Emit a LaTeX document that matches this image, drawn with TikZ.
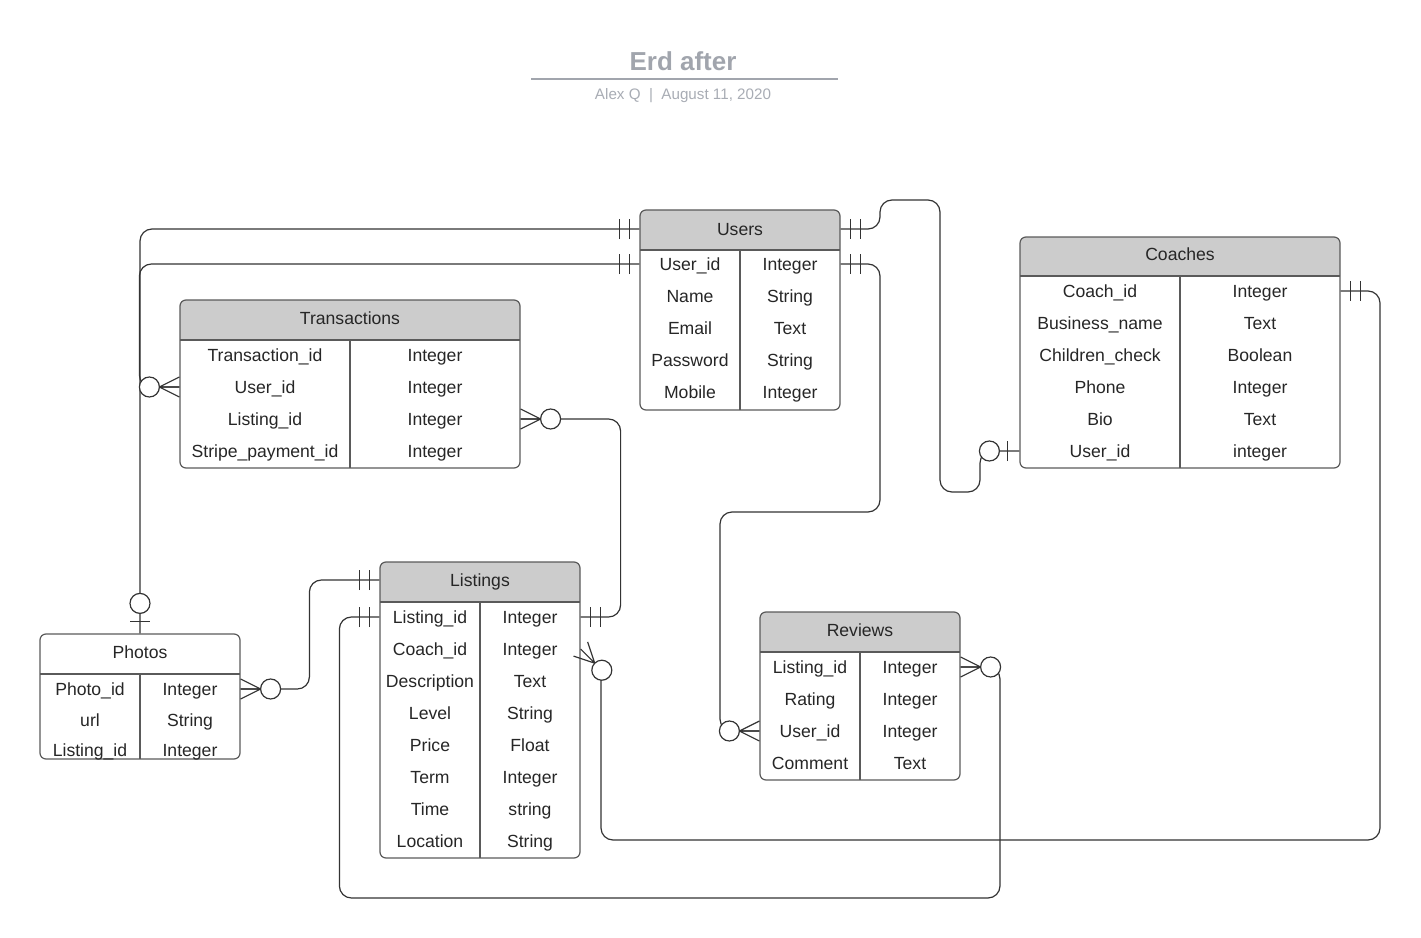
\documentclass[tikz,border=0pt]{standalone}
\usepackage{fontspec}
\setmainfont{Liberation Sans}
\definecolor{hdgray}{RGB}{204,204,204}
\definecolor{tline}{RGB}{90,90,90}
\definecolor{lnk}{RGB}{51,51,51}
\definecolor{ttl}{RGB}{161,165,173}
\definecolor{subttl}{RGB}{168,172,180}
\definecolor{txt}{RGB}{38,38,38}
\begin{document}
\begin{tikzpicture}[x=0.75pt,y=-0.75pt,
    tbl/.style={draw=tline,line width=0.9pt,rounded corners=4.5pt,inner sep=0pt},
    hd/.style={fill=hdgray},
    sep/.style={draw=tline,line width=0.9pt},
    cell/.style={inner sep=0pt,text height=9.4pt,text depth=0pt,text=txt,font=\fontsize{13.2}{15}\selectfont},
    link/.style={draw=lnk,line width=0.9pt,rounded corners=9pt},
    endmark/.style={draw=lnk,line width=0.9pt},
    bars/.pic={\draw[endmark] (10,-10)--(10,10) (20,-10)--(20,10);},
    zeroone/.pic={\draw[endmark] (12,-10)--(12,10);
      \draw[endmark,fill=white] (30,0) circle[radius=7.5pt];},
    zeromany/.pic={\draw[endmark] (0,-10)--(20,0)--(0,10) (0,0)--(20,0);
      \draw[endmark,fill=white] (30,0) circle[radius=7.5pt];}]
\useasboundingbox (0,0) rectangle (1421,938);

\node[font=\bfseries\fontsize{19.5}{22}\selectfont,text=ttl] (title) at (683,61) {Erd after};
\draw[ttl,line width=1.5pt] (531,79) -- (838,79);
\node[font=\fontsize{11.4}{13}\selectfont,text=subttl] (subtitle) at (683,96) {Alex Q\ \ |\ \ August 11, 2020};

% Users
\fill[hd] (640,250) [rounded corners=4.5pt] -- (640,210) -- (840,210) [sharp corners] -- (840,250) -- cycle;
\node[tbl,minimum width=150pt,minimum height=150pt] (users) at (740,310) {};
\draw[sep] (640,250) -- (840,250) (740,250) -- (740,410);
\node[cell] (users-hd) at (740,229) {Users};
\foreach \a/\b [count=\i] in {User\_id/Integer,Name/String,Email/Text,Password/String,Mobile/Integer}{
  \node[cell] (users-\i) at (690,{232+32*\i}) {\a};
  \node[cell] (users-t\i) at (790,{232+32*\i}) {\b};
}

% Transactions
\fill[hd] (180,340) [rounded corners=4.5pt] -- (180,300) -- (520,300) [sharp corners] -- (520,340) -- cycle;
\node[tbl,minimum width=255pt,minimum height=126pt] (trans) at (350,384) {};
\draw[sep] (180,340) -- (520,340) (350,340) -- (350,468);
\node[cell] (trans-hd) at (350,318) {Transactions};
\foreach \a/\b [count=\i] in {Transaction\_id/Integer,User\_id/Integer,Listing\_id/Integer,Stripe\_payment\_id/Integer}{
  \node[cell] (trans-\i) at (265,{323+32*\i}) {\a};
  \node[cell] (trans-t\i) at (435,{323+32*\i}) {\b};
}

% Coaches
\fill[hd] (1020,276) [rounded corners=4.5pt] -- (1020,237) -- (1340,237) [sharp corners] -- (1340,276) -- cycle;
\node[tbl,minimum width=240pt,minimum height=173.25pt] (coaches) at (1180,352.5) {};
\draw[sep] (1020,276) -- (1340,276) (1180,276) -- (1180,468);
\node[cell] (coaches-hd) at (1180,254) {Coaches};
\foreach \a/\b [count=\i] in {Coach\_id/Integer,Business\_name/Text,Children\_check/Boolean,Phone/Integer,Bio/Text,User\_id/integer}{
  \node[cell] (coaches-\i) at (1100,{259+32*\i}) {\a};
  \node[cell] (coaches-t\i) at (1260,{259+32*\i}) {\b};
}

% Listings
\fill[hd] (380,602) [rounded corners=4.5pt] -- (380,562) -- (580,562) [sharp corners] -- (580,602) -- cycle;
\node[tbl,minimum width=150pt,minimum height=222pt] (listings) at (480,710) {};
\draw[sep] (380,602) -- (580,602) (480,602) -- (480,858);
\node[cell] (listings-hd) at (480,580) {Listings};
\foreach \a/\b [count=\i] in {Listing\_id/Integer,Coach\_id/Integer,Description/Text,Level/String,Price/Float,Term/Integer,Time/string,Location/String}{
  \node[cell] (listings-\i) at (430,{585+32*\i}) {\a};
  \node[cell] (listings-t\i) at (530,{585+32*\i}) {\b};
}

% Reviews
\fill[hd] (760,652) [rounded corners=4.5pt] -- (760,612) -- (960,612) [sharp corners] -- (960,652) -- cycle;
\node[tbl,minimum width=150pt,minimum height=126pt] (reviews) at (860,696) {};
\draw[sep] (760,652) -- (960,652) (860,652) -- (860,780);
\node[cell] (reviews-hd) at (860,630) {Reviews};
\foreach \a/\b [count=\i] in {Listing\_id/Integer,Rating/Integer,User\_id/Integer,Comment/Text}{
  \node[cell] (reviews-\i) at (810,{635+32*\i}) {\a};
  \node[cell] (reviews-t\i) at (910,{635+32*\i}) {\b};
}

% Photos
\node[tbl,minimum width=150pt,minimum height=93.75pt] (photos) at (140,696.5) {};
\draw[sep] (40,674) -- (240,674) (140,674) -- (140,759);
\node[cell] (photos-hd) at (140,652) {Photos};
\foreach \a/\b/\y [count=\i] in {Photo\_id/Integer/689,url/String/720,Listing\_id/Integer/750}{
  \node[cell] (photos-\i) at (90,\y) {\a};
  \node[cell] (photos-t\i) at (190,\y) {\b};
}

% relations
\draw[link] (users.west |- users-hd) -| (photos.north);
\draw[link] (users.west |- users-1) -| ([xshift=-30pt]trans.west |- trans-2) -- (trans.west |- trans-2);
\draw[link] (trans.east |- trans-3) -| ([xshift=30pt]listings.east |- listings-1) -- (listings.east |- listings-1);
\draw[link] (users.east |- users-hd) -- (880,229) -- (880,200) -- (940,200) -- (940,492) -- (980,492) |- (coaches.west |- coaches-6);
\draw[link] (users.east |- users-1) -| (880,512) -- (720,512) |- (reviews.west |- reviews-3);
\draw[link] (coaches.east |- coaches-1) -| (1380,840) -| (601,670);
\draw[link] (reviews.east |- reviews-1) -| (1000,898) -| ([xshift=-30pt]listings.west |- listings-1) -- (listings.west |- listings-1);
\draw[link] (photos.east |- photos-1) -| ([xshift=-52.5pt]listings.west |- listings-hd) -- (listings.west |- listings-hd);

\pic[rotate=180] at (users.west |- users-hd) {bars};
\pic[rotate=180] at (users.west |- users-1) {bars};
\pic[rotate=90] at (photos.north) {zeroone};
\pic[rotate=180] at (trans.west |- trans-2) {zeromany};
\pic at (trans.east |- trans-3) {zeromany};
\pic at (listings.east |- listings-1) {bars};
\pic at (users.east |- users-hd) {bars};
\pic at (users.east |- users-1) {bars};
\pic[rotate=180] at (coaches.west |- coaches-6) {zeroone};
\pic[rotate=180] at (reviews.west |- reviews-3) {zeromany};
\pic at (coaches.east |- coaches-1) {bars};
\pic[rotate=-45] at (listings.east |- listings-2) {zeromany};
\pic at (reviews.east |- reviews-1) {zeromany};
\pic[rotate=180] at (listings.west |- listings-1) {bars};
\pic at (photos.east |- photos-1) {zeromany};
\pic[rotate=180] at (listings.west |- listings-hd) {bars};
\end{tikzpicture}
\end{document}
